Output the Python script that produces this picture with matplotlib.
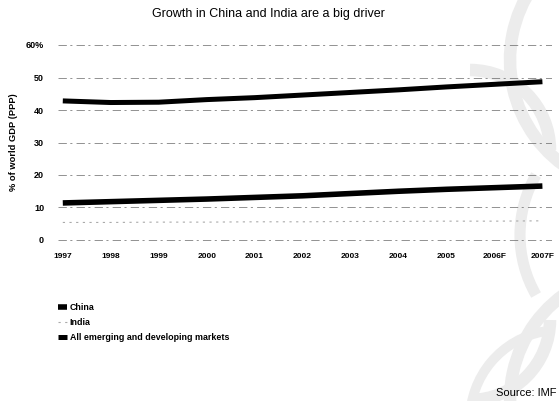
import matplotlib
matplotlib.use("Agg")
import matplotlib.pyplot as plt
from matplotlib.patches import Arc

plt.rcParams['font.family'] = ['Liberation Sans', 'DejaVu Sans']

years = ["1997", "1998", "1999", "2000", "2001", "2002", "2003", "2004", "2005", "2006F", "2007F"]
china = [11.4, 11.8, 12.2, 12.6, 13.1, 13.6, 14.3, 15.0, 15.6, 16.1, 16.6]
india = [5.4, 5.4, 5.5, 5.5, 5.6, 5.6, 5.7, 5.7, 5.8, 5.8, 5.9]
emerging = [42.8, 42.3, 42.4, 43.2, 43.8, 44.6, 45.4, 46.2, 47.1, 47.9, 48.7]
yticks = [0, 10, 20, 30, 40, 50, 60]
yticklabels = ["0", "10", "20", "30", "40", "50", "60%"]

W, H = 559, 401
fig = plt.figure(figsize=(W / 100, H / 100), dpi=100)

# background watermark layer (pixel coords)
bg = fig.add_axes([0, 0, 1, 1], zorder=-5)
bg.set_xlim(0, W)
bg.set_ylim(H, 0)
bg.axis('off')
wm = '#ececec'
for (cx, cy, r, t1, t2, lw) in [
    (640, 60, 130, 120, 215, 9),
    (470, 150, 80, 270, 360, 9),
    (470, 320, 80, 0, 90, 9),
    (640, 235, 120, 150, 210, 8),
    (640, 400, 130, 145, 240, 9),
    (560, 420, 90, 180, 260, 7),
]:
    bg.add_patch(Arc((cx, cy), 2 * r, 2 * r, theta1=t1, theta2=t2, color=wm, lw=lw))

ax = fig.add_axes([58 / W, 1 - 246.5 / H, 494 / W, 208 / H])
ax.set_facecolor('none')
x = list(range(len(years)))

for yv in yticks:
    ax.axhline(yv, color='#666666', lw=0.5, ls=(0, (12, 5, 3, 6)), zorder=1)

ax.plot(x, india, color='#aaaaaa', lw=0.8, ls=(0, (2, 4)), zorder=2, label='India')
ax.plot(x, china, color='black', lw=4.0, solid_capstyle='butt', zorder=3, label='China')
ax.plot(x, emerging, color='black', lw=3.6, solid_capstyle='butt', zorder=3,
        label='All emerging and developing markets')

ax.set_xlim(-0.1, 10.2)
ax.set_ylim(-2, 62)
ax.set_xticks(x)
ax.set_xticklabels(years, fontsize=6, fontweight='bold')
ax.set_yticks(yticks)
ax.set_yticklabels(yticklabels, fontsize=6.5, fontweight='bold')
ax.tick_params(length=0, axis='y', pad=10)
ax.tick_params(length=0, axis='x', pad=5)
for s in ax.spines.values():
    s.set_visible(False)

ax.set_ylabel("% of world GDP (PPP)", fontsize=6.7, fontweight='bold')
ax.yaxis.set_label_coords(-0.08, 0.5)

fig.text(268 / W, 1 - 14 / H, "Growth in China and India are a big driver",
         ha='center', va='center', fontsize=9)

lines = ax.get_lines()
handles = [lines[-2], lines[-3], lines[-1]]
fig.legend(handles, ['China', 'India', 'All emerging and developing markets'],
           loc='upper left', bbox_to_anchor=(50 / W, 1 - 295 / H),
           frameon=False, handlelength=1.0, handletextpad=0.3,
           labelspacing=0.7, prop={'weight': 'bold', 'size': 6.4})

fig.text(557 / W, 1 - 393 / H, "Source: IMF", ha='right', va='center', fontsize=8)

fig.savefig("out.png", dpi=100)
